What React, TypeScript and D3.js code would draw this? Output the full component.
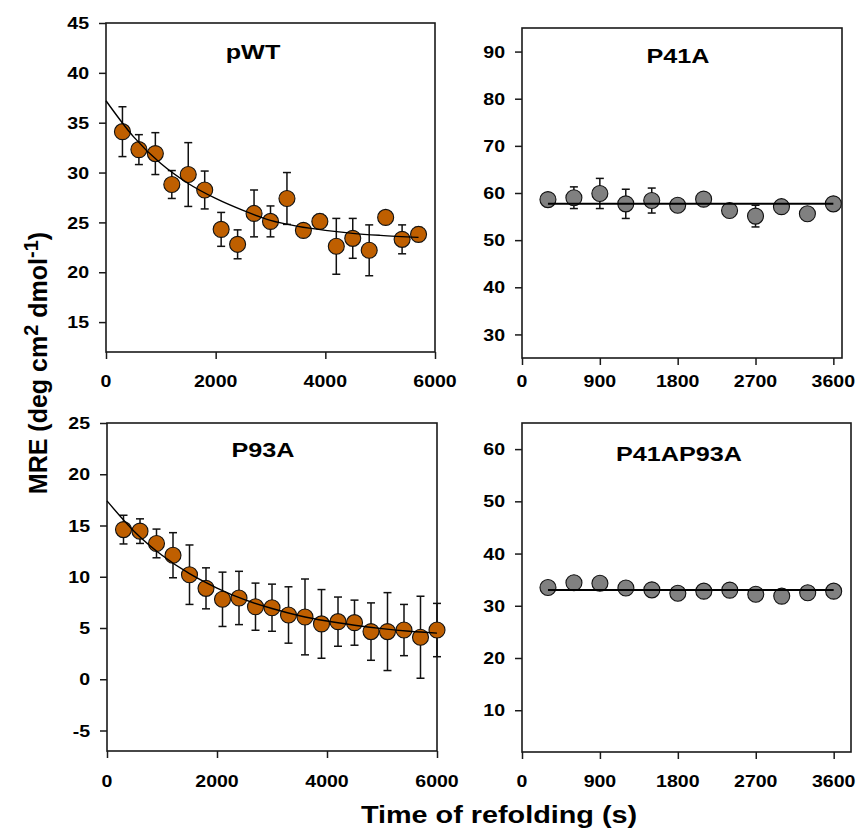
import React, { useEffect, useRef } from 'react';
import * as d3 from 'd3';

// pWT
const pwtTime = [300, 600, 900, 1200, 1500, 1800, 2100, 2400, 2700, 3000, 3300, 3600, 3900, 4200, 4500, 4800, 5100, 5400, 5700];
const pwtMRE = [34.1, 32.3, 31.9, 28.8, 29.8, 28.25, 24.3, 22.8, 25.9, 25.1, 27.4, 24.2, 25.1, 22.6, 23.4, 22.2, 25.5, 23.3, 23.8];
const pwtErr = [2.5, 1.5, 2.1, 1.4, 3.2, 1.9, 1.7, 1.45, 2.35, 1.55, 2.6, 0.6, 0.7, 2.8, 2.0, 2.55, 0.6, 1.45, 0.7];
const pwtFitTime = [0, 500, 1000, 1500, 2000, 2500, 3000, 3500, 4000, 4500, 5000, 5700];
const pwtFit = [37.2, 33.6, 30.9, 28.9, 27.4, 26.2, 25.2, 24.6, 24.2, 23.9, 23.7, 23.5];

// P41A
const p41Time = [300, 600, 900, 1200, 1500, 1800, 2100, 2400, 2700, 3000, 3300, 3600];
const p41MRE = [58.6, 59.0, 59.9, 57.7, 58.4, 57.4, 58.7, 56.3, 55.1, 57.1, 55.6, 57.7];
const p41Err = [0.8, 2.3, 3.2, 3.1, 2.65, 0.7, 0.6, 0.8, 2.3, 0.6, 0.7, 0.6];
const p41FitTime = [300, 3600];
const p41Fit = [57.7, 57.7];

// P93A
const p93Time = [300, 600, 900, 1200, 1500, 1800, 2100, 2400, 2700, 3000, 3300, 3600, 3900, 4200, 4500, 4800, 5100, 5400, 5700, 6000];
const p93MRE = [14.6, 14.45, 13.25, 12.1, 10.2, 8.87, 7.8, 7.93, 7.08, 6.98, 6.27, 6.08, 5.4, 5.62, 5.52, 4.65, 4.65, 4.8, 4.1, 4.8];
const p93Err = [1.4, 1.2, 1.4, 2.2, 2.9, 2.0, 2.65, 2.6, 2.3, 2.3, 2.75, 3.7, 3.35, 2.4, 2.2, 2.8, 3.8, 2.5, 4.0, 2.6];
const p93FitTime = [0, 500, 1000, 1500, 2000, 2500, 3000, 3500, 4000, 4500, 5000, 5500, 6000];
const p93Fit = [17.4, 14.4, 12.1, 10.3, 8.9, 7.76, 6.9, 6.2, 5.68, 5.27, 4.94, 4.68, 4.5];

// P41AP93A
const dblTime = [300, 600, 900, 1200, 1500, 1800, 2100, 2400, 2700, 3000, 3300, 3600];
const dblMRE = [33.5, 34.4, 34.3, 33.4, 33.05, 32.4, 32.8, 33.0, 32.2, 31.85, 32.5, 32.8];
const dblErr = [0.6, 0.6, 0.6, 0.6, 0.6, 1.2, 0.6, 0.6, 0.6, 1.0, 0.6, 0.6];
const dblFitTime = [300, 3600];
const dblFit = [33.0, 33.0];

const longTicks = [0, 2000, 4000, 6000];
const shortTicks = [0, 900, 1800, 2700, 3600];

const FONT = 'Arial, "Liberation Sans", Helvetica, sans-serif';
const ORANGE = '#BF5F00';
const GREY = '#808080';

const App = () => {
  const ref = useRef<SVGSVGElement>(null);

  useEffect(() => {
    const svg = d3.select(ref.current);
    svg.selectAll('*').remove();

    const panels = [
      {
        title: 'pWT', titleX: 253, titleY: 59,
        left: 106, right: 435, top: 23, bottom: 352, labelY: 387,
        xDomain: [0, 6000], yDomain: [12, 45],
        xTicks: longTicks, yTicks: d3.range(15, 46, 5),
        t: pwtTime, v: pwtMRE, e: pwtErr, ft: pwtFitTime, fv: pwtFit,
        color: ORANGE, fitWidth: 1.4,
      },
      {
        title: 'P41A', titleX: 678, titleY: 63,
        left: 522, right: 842, top: 28, bottom: 358, labelY: 387,
        xDomain: [0, 3700], yDomain: [25, 95],
        xTicks: shortTicks, yTicks: d3.range(30, 91, 10),
        t: p41Time, v: p41MRE, e: p41Err, ft: p41FitTime, fv: p41Fit,
        color: GREY, fitWidth: 2,
      },
      {
        title: 'P93A', titleX: 263, titleY: 457,
        left: 107, right: 437, top: 423, bottom: 751, labelY: 787,
        xDomain: [0, 6000], yDomain: [-7, 25],
        xTicks: longTicks, yTicks: d3.range(-5, 26, 5),
        t: p93Time, v: p93MRE, e: p93Err, ft: p93FitTime, fv: p93Fit,
        color: ORANGE, fitWidth: 1.4,
      },
      {
        title: 'P41AP93A', titleX: 679, titleY: 461,
        left: 522, right: 851, top: 423, bottom: 752, labelY: 787,
        xDomain: [0, 3800], yDomain: [2, 65],
        xTicks: shortTicks, yTicks: d3.range(10, 61, 10),
        t: dblTime, v: dblMRE, e: dblErr, ft: dblFitTime, fv: dblFit,
        color: GREY, fitWidth: 2,
      },
    ];

    panels.forEach(p => {
      const x = d3.scaleLinear().domain(p.xDomain).range([p.left, p.right]);
      const y = d3.scaleLinear().domain(p.yDomain).range([p.bottom, p.top]);
      const g = svg.append('g');

      // ticks via d3 axes, labels drawn separately
      const ax = g.append('g')
        .attr('transform', `translate(0,${p.bottom})`)
        .call(d3.axisBottom(x).tickValues(p.xTicks).tickSize(7).tickFormat(() => ''));
      ax.select('.domain').remove();
      ax.selectAll('line').attr('stroke', '#1a1a1a').attr('stroke-width', 1.5);

      const ay = g.append('g')
        .attr('transform', `translate(${p.left},0)`)
        .call(d3.axisLeft(y).tickValues(p.yTicks).tickSize(7).tickFormat(() => ''));
      ay.select('.domain').remove();
      ay.selectAll('line').attr('stroke', '#1a1a1a').attr('stroke-width', 1.5);

      g.append('rect')
        .attr('x', p.left).attr('y', p.top)
        .attr('width', p.right - p.left).attr('height', p.bottom - p.top)
        .attr('fill', 'none').attr('stroke', '#1a1a1a').attr('stroke-width', 1.6);

      g.selectAll('.xl').data(p.xTicks).join('text')
        .attr('transform', d => `translate(${x(d)},${p.labelY}) scale(1.15,1)`)
        .attr('text-anchor', 'middle')
        .style('font-family', FONT).style('font-weight', 'bold').style('font-size', '17px')
        .text(d => String(d));

      g.selectAll('.yl').data(p.yTicks).join('text')
        .attr('transform', d => `translate(${p.left - 17},${y(d)}) scale(1.15,1)`)
        .attr('text-anchor', 'end').attr('dy', '0.36em')
        .style('font-family', FONT).style('font-weight', 'bold').style('font-size', '17px')
        .text(d => String(d));

      g.append('text')
        .attr('transform', `translate(${p.titleX},${p.titleY}) scale(1.2,1)`)
        .attr('text-anchor', 'middle')
        .style('font-family', FONT).style('font-weight', 'bold').style('font-size', '21px')
        .text(p.title);

      const pts = p.t.map((t, i) => ({ t, v: p.v[i], e: p.e[i] }));

      // error bars
      const eb = g.selectAll('.eb').data(pts).join('g').attr('stroke', '#111').attr('stroke-width', 1.5);
      eb.append('line')
        .attr('x1', d => x(d.t)).attr('x2', d => x(d.t))
        .attr('y1', d => y(d.v - d.e)).attr('y2', d => y(d.v + d.e));
      eb.append('line')
        .attr('x1', d => x(d.t) - 4).attr('x2', d => x(d.t) + 4)
        .attr('y1', d => y(d.v + d.e)).attr('y2', d => y(d.v + d.e));
      eb.append('line')
        .attr('x1', d => x(d.t) - 4).attr('x2', d => x(d.t) + 4)
        .attr('y1', d => y(d.v - d.e)).attr('y2', d => y(d.v - d.e));

      g.selectAll('.pt').data(pts).join('circle')
        .attr('cx', d => x(d.t)).attr('cy', d => y(d.v)).attr('r', 8)
        .attr('fill', p.color).attr('stroke', '#111').attr('stroke-width', 1.1);

      const fit = p.ft.map((t, i) => [t, p.fv[i]] as [number, number]);
      const line = d3.line<[number, number]>()
        .x(d => x(d[0])).y(d => y(d[1]))
        .curve(d3.curveMonotoneX);
      g.append('path').datum(fit)
        .attr('d', line).attr('fill', 'none')
        .attr('stroke', '#000').attr('stroke-width', p.fitWidth);
    });

    // shared axis titles
    const yl = svg.append('text')
      .attr('transform', 'translate(47,363) rotate(-90)')
      .attr('text-anchor', 'middle')
      .style('font-family', FONT).style('font-weight', 'bold').style('font-size', '25px');
    yl.append('tspan').text('MRE (deg cm');
    yl.append('tspan').attr('dy', -9).style('font-size', '20px').text('2');
    yl.append('tspan').attr('dy', 9).text(' dmol');
    yl.append('tspan').attr('dy', -9).style('font-size', '20px').text('-1');
    yl.append('tspan').attr('dy', 9).text(')');

    svg.append('text')
      .attr('transform', 'translate(499,823) scale(1.2,1)')
      .attr('text-anchor', 'middle')
      .style('font-family', FONT).style('font-weight', 'bold').style('font-size', '24px')
      .text('Time of refolding (s)');
  }, []);

  return (
    <svg
      ref={ref}
      width={859}
      height={832}
      style={{ position: 'absolute', left: 0, top: 0, background: '#fff', display: 'block' }}
    />
  );
};

export default App;
